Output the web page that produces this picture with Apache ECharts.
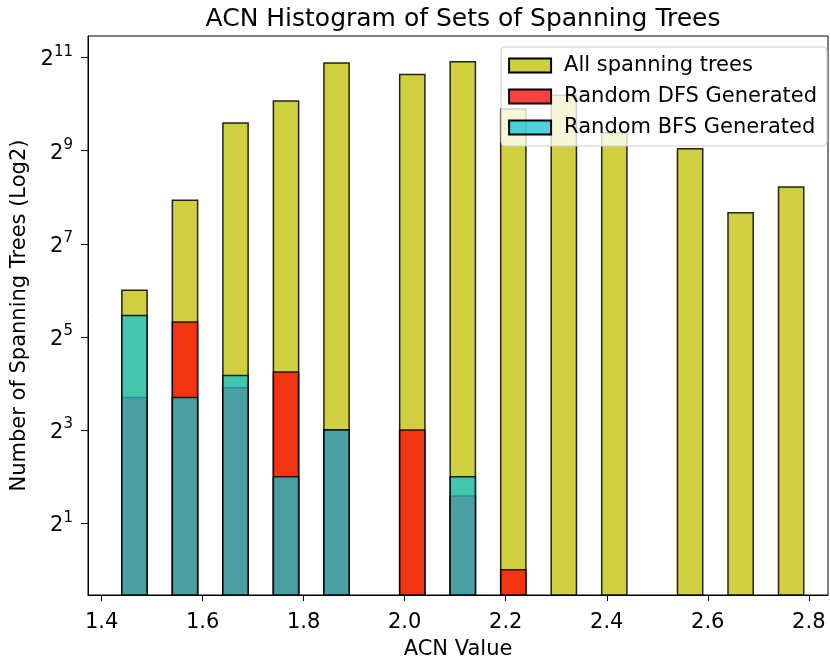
<!DOCTYPE html>
<html>
<head>
<meta charset="utf-8">
<script src="https://cdn.jsdelivr.net/npm/echarts@6/dist/echarts.min.js"></script>
<style>
  html, body { margin: 0; padding: 0; background: #fff; }
  #chart { width: 830px; height: 660px; }
</style>
</head>
<body>
<div id="chart"></div>
<script>
// bin centres (ACN value) and counts per bin
const acnBins = [1.465, 1.565, 1.665, 1.765, 1.865, 2.015, 2.115, 2.215, 2.315, 2.415, 2.565, 2.665, 2.765];
const allTrees = [64, 245, 771, 1069, 1886, 1590, 1924, 949, 1168, 667, 526, 203, 298];
const dfsTrees = [13, 40, 15, 19, 8, 8, 3, 1, 0, 0, 0, 0, 0];
const bfsTrees = [44, 13, 18, 4, 8, 0, 4, 0, 0, 0, 0, 0, 0];

const xTicks = [1.4, 1.6, 1.8, 2.0, 2.2, 2.4, 2.6, 2.8];
const yTicks = [1, 3, 5, 7, 9, 11]; // powers of two

const BIN_HALF = 0.025;
const FONT = 'DejaVu Sans';

// y axis works in log2 space
const toRows = counts => acnBins
  .map((x, i) => [x, counts[i]])
  .filter(r => r[1] > 0)
  .map(r => [r[0], Math.log2(r[1])]);

function renderBin(params, api) {
  const x = api.value(0);
  const v = api.value(1);
  const tl = api.coord([x - BIN_HALF, v]);
  const tr = api.coord([x + BIN_HALF, v]);
  const bottom = params.coordSys.y + params.coordSys.height;
  return {
    type: 'rect',
    shape: { x: tl[0], y: tl[1], width: tr[0] - tl[0], height: bottom - tl[1] },
    style: {
      fill: api.visual('color'),
      stroke: 'rgba(0,0,0,0.85)',
      lineWidth: 1.5
    }
  };
}

const binSeries = (name, color, counts) => ({
  name: name,
  type: 'custom',
  renderItem: renderBin,
  itemStyle: { color: color, borderColor: '#000', borderWidth: 1.5 },
  encode: { x: 0, y: 1 },
  data: toRows(counts)
});

const chart = echarts.init(document.getElementById('chart'));

chart.setOption({
  animation: false,
  textStyle: { fontFamily: FONT },
  title: {
    text: 'ACN Histogram of Sets of Spanning Trees',
    left: 458,
    textAlign: 'center',
    top: 2,
    textStyle: { fontFamily: FONT, fontSize: 25, fontWeight: 'normal', color: '#000' }
  },
  legend: {
    orient: 'vertical',
    right: 3,
    top: 47,
    itemWidth: 42,
    itemHeight: 14,
    itemGap: 10,
    padding: [8, 10, 8, 7],
    backgroundColor: 'rgba(255,255,255,0.8)',
    borderColor: '#cccccc',
    borderWidth: 1,
    borderRadius: 4,
    icon: 'rect',
    textStyle: { fontFamily: FONT, fontSize: 21, color: '#000', padding: [0, 0, 0, 8] },
    data: ['All spanning trees', 'Random DFS Generated', 'Random BFS Generated']
  },
  grid: {
    left: 88, right: 2, top: 36, bottom: 65,
    outerBoundsMode: 'none',
    containLabel: false,
    show: true, borderColor: '#000', borderWidth: 1
  },
  xAxis: {
    type: 'value',
    min: 1.373,
    max: 2.838,
    name: 'ACN Value',
    nameLocation: 'middle',
    nameGap: 44,
    nameTextStyle: { fontFamily: FONT, fontSize: 21, color: '#000' },
    splitLine: { show: false },
    axisLine: { onZero: false, lineStyle: { color: '#000', width: 1 } },
    axisTick: { show: true, inside: false, length: 6, lineStyle: { color: '#000' }, customValues: xTicks },
    axisLabel: {
      color: '#000', fontSize: 21, margin: 17,
      customValues: xTicks,
      formatter: v => v.toFixed(1)
    }
  },
  yAxis: {
    type: 'value',
    min: -0.54,
    max: 11.46,
    name: 'Number of Spanning Trees (Log2)',
    nameLocation: 'middle',
    nameGap: 55,
    nameTextStyle: { fontFamily: FONT, fontSize: 21, color: '#000' },
    splitLine: { show: false },
    axisLine: { show: true, onZero: false, lineStyle: { color: '#000', width: 1 } },
    axisTick: { show: true, inside: false, length: 7, lineStyle: { color: '#000' }, customValues: yTicks },
    axisLabel: {
      color: '#000', margin: 15,
      customValues: yTicks,
      formatter: v => '{b|2}{s|' + v + '}',
      rich: {
        b: { fontFamily: FONT, fontSize: 21, color: '#000', lineHeight: 26, verticalAlign: 'bottom' },
        s: { fontFamily: FONT, fontSize: 15, color: '#000', lineHeight: 26, verticalAlign: 'top', padding: [0, 0, 10, 0] }
      }
    }
  },
  series: [
    binSeries('All spanning trees', 'rgba(191,191,0,0.75)', allTrees),
    binSeries('Random DFS Generated', 'rgba(255,0,0,0.75)', dfsTrees),
    binSeries('Random BFS Generated', 'rgba(20,195,210,0.75)', bfsTrees)
  ]
});
</script>
</body>
</html>
